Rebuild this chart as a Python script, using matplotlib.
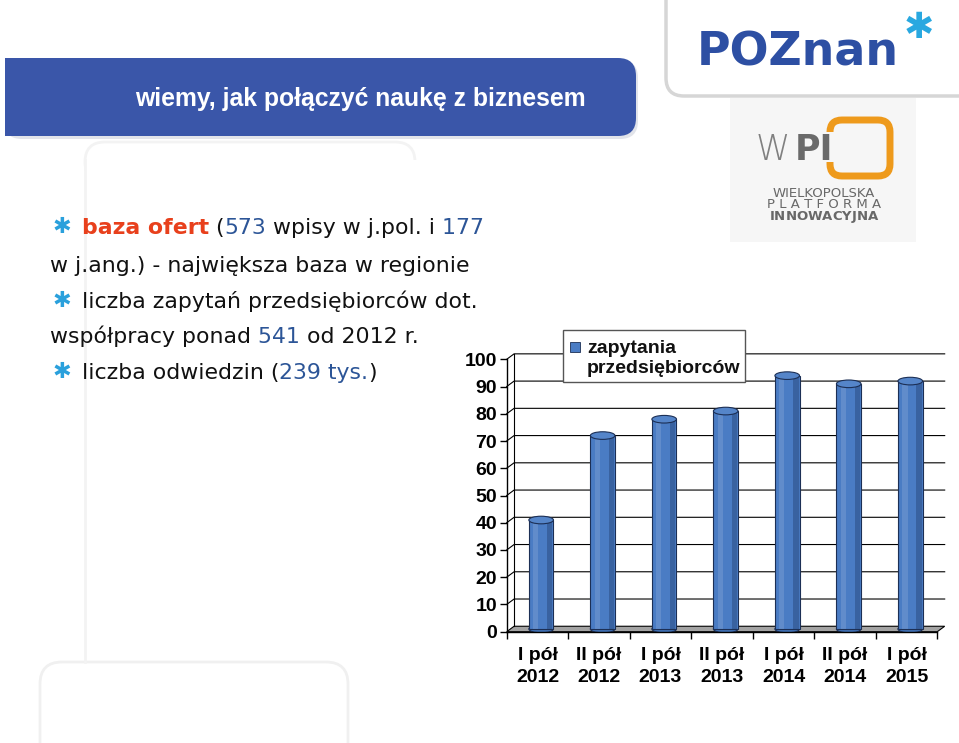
import numpy as np
import matplotlib
matplotlib.use("Agg")
import matplotlib.pyplot as plt
import matplotlib.patches as mpatches

# data
categories = ["I pół\n2012", "II pół\n2012", "I pół\n2013", "II pół\n2013",
              "I pół\n2014", "II pół\n2014", "I pół\n2015"]
inquiries = [40, 71, 77, 80, 93, 90, 91]
y_ticks = [0, 10, 20, 30, 40, 50, 60, 70, 80, 90, 100]
legend_lines = ["zapytania", "przedsiębiorców"]
title = "wiemy, jak połączyć naukę z biznesem"

BLACK, BLUE, RED = "#111111", "#2c5597", "#e8401c"
bullet_lines = [
    (True,  [("baza ofert", RED, "bold"), (" (", BLACK, "normal"), ("573", BLUE, "normal"),
             (" wpisy w j.pol. i", BLACK, "normal"), (" 177", BLUE, "normal")]),
    (False, [("w j.ang.) - największa baza w regionie", BLACK, "normal")]),
    (True,  [("liczba zapytań przedsiębiorców dot.", BLACK, "normal")]),
    (False, [("współpracy ponad", BLACK, "normal"), (" 541", BLUE, "normal"),
             (" od 2012 r.", BLACK, "normal")]),
    (True,  [("liczba odwiedzin (", BLACK, "normal"), ("239 tys.", BLUE, "normal"),
             (")", BLACK, "normal")]),
]
line_baselines = [234, 272, 308, 343, 379]

W, H = 959, 743
fig = plt.figure(figsize=(W / 100, H / 100), dpi=100)
fig.patch.set_facecolor("white")

# background layer in pixel coordinates
bg = fig.add_axes([0, 0, 1, 1])
bg.set_xlim(0, W)
bg.set_ylim(H, 0)
bg.axis("off")

# faint slide decorations
faint = "#f3f3f3"
bg.plot([85, 85], [160, 662], color=faint, lw=2)
bg.add_patch(mpatches.FancyBboxPatch((85, 142), 330, 40, boxstyle="round,pad=0,rounding_size=20",
                                     fc="none", ec=faint, lw=2))
bg.add_patch(mpatches.Rectangle((86, 160), 420, 30, fc="white", ec="none"))
bg.add_patch(mpatches.FancyBboxPatch((40, 662), 308, 120, boxstyle="round,pad=0,rounding_size=22",
                                     fc="white", ec="#f0f0f0", lw=2))

# title banner
bg.add_patch(mpatches.FancyBboxPatch((4, 60), 634, 79, boxstyle="round,pad=0,rounding_size=18",
                                     fc="#e2e4ea", ec="none"))
bg.add_patch(mpatches.FancyBboxPatch((-20, 58), 656, 78, boxstyle="round,pad=0,rounding_size=18",
                                     fc="#3a56a9", ec="none"))
bg.add_patch(mpatches.Rectangle((-5, 58), 10, 80, fc="white", ec="none"))
bg.text(360, 99, title, color="white", fontsize=17.8, fontweight="bold",
        family="Liberation Sans", ha="center", va="center")

# POZnan logo
bg.add_patch(mpatches.FancyBboxPatch((666, -40), 310, 136, boxstyle="round,pad=0,rounding_size=18",
                                     fc="white", ec="#d6d6d6", lw=2.5))
bg.text(697, 66, "POZnan", color="#2d4fa3", fontsize=33, fontweight="bold",
        family="DejaVu Sans", ha="left", va="baseline")
bg.text(919, 28, "✱", color="#29a8e0", fontsize=26, family="DejaVu Sans",
        ha="center", va="center")

# WPI logo
bg.add_patch(mpatches.Rectangle((730, 98), 186, 144, fc="#f6f6f6", ec="none"))
bg.add_patch(mpatches.FancyBboxPatch((830, 120), 60, 56, boxstyle="round,pad=0,rounding_size=12",
                                     fc="none", ec="#ee9a1c", lw=5))
bg.add_patch(mpatches.Rectangle((824, 132), 12, 30, fc="#f6f6f6", ec="none"))
bg.text(756, 160, "W", color="#808080", fontsize=25, fontweight="light",
        family="DejaVu Sans", ha="left", va="baseline")
bg.text(795, 160, "PI", color="#6a6a6a", fontsize=25, fontweight="bold",
        family="DejaVu Sans", ha="left", va="baseline")
bg.text(824, 220, "WIELKOPOLSKA\nP L A T F O R M A\n$\\mathbf{INNOWACYJNA}$",
        color="#686868", fontsize=9.5, family="DejaVu Sans", ha="center", va="baseline",
        multialignment="center", linespacing=0.8)

# bullet text
for (star, pieces), yb in zip(bullet_lines, line_baselines):
    if star:
        bg.text(62, yb - 7, "✱", color="#2aa0dc", fontsize=16, family="DejaVu Sans",
                ha="center", va="center")
        x0 = 82
    else:
        x0 = 50
    prev = None
    for s, c, w in pieces:
        if prev is None:
            prev = bg.text(x0, yb, s, color=c, fontweight=w, fontsize=15.8,
                           family="DejaVu Sans", ha="left", va="baseline")
        else:
            prev = bg.annotate(s, xy=(1, 0), xycoords=prev, color=c, fontweight=w,
                               fontsize=15.8, family="DejaVu Sans", ha="left", va="bottom")

# chart
ax = fig.add_axes([506.7 / W, (H - 631.7) / H, (937.3 - 506.7) / W, (631.7 - 359.3) / H])
ax.set_xlim(-0.5, 6.5)
ax.set_ylim(0, 100)
ax.patch.set_visible(False)
for s in ["top", "right"]:
    ax.spines[s].set_visible(False)
for s in ["left", "bottom"]:
    ax.spines[s].set_linewidth(1)

dx, dy = 0.12, 2.0
ax.add_patch(mpatches.Polygon([(-0.5, 0), (6.5, 0), (6.5 + dx, dy), (-0.5 + dx, dy)],
                              closed=True, fc="#a3a3a3", ec="black", lw=0.8, clip_on=False, zorder=1))
for v in y_ticks[1:]:
    ax.plot([-0.5, -0.5 + dx, 6.5 + dx], [v, v + dy, v + dy], color="black", lw=0.8,
            clip_on=False, zorder=1)
ax.plot([-0.5 + dx, -0.5 + dx], [dy, 100 + dy], color="black", lw=0.8, clip_on=False, zorder=1)

x = np.arange(len(categories))
bw = 0.4
xc = x + dx / 2
base = dy / 2
tops = np.array(inquiries) + dy / 2
edge = "#1c2f55"
for xi in xc:
    ax.add_patch(mpatches.Ellipse((xi, base), bw, 2.8, fc="#3f6fb3", ec=edge, lw=0.8, zorder=2))
ax.bar(xc, tops - base, bottom=base, width=bw, color="#4a7cc4", edgecolor=edge, lw=0.8, zorder=3)
ax.bar(xc - bw * 0.22, tops - base, bottom=base, width=bw * 0.22, color="white", alpha=0.13,
       lw=0, zorder=4)
ax.bar(xc + bw * 0.35, tops - base, bottom=base, width=bw * 0.22, color="#13284d", alpha=0.3,
       lw=0, zorder=4)
for xi, t in zip(xc, tops):
    ax.add_patch(mpatches.Ellipse((xi, t), bw, 2.8, fc="#5585c9", ec=edge, lw=0.8, zorder=5))

ax.set_yticks(y_ticks)
ax.set_yticklabels([str(v) for v in y_ticks], fontsize=14, fontweight="bold",
                   family="Liberation Sans")
ax.tick_params(axis="y", length=5, width=1, pad=2)
ax.set_xticks(x)
ax.set_xticklabels(categories, fontsize=14, fontweight="bold", family="Liberation Sans",
                   linespacing=1.35)
ax.tick_params(axis="x", which="major", length=0, pad=11)
ax.set_xticks(np.arange(-0.5, len(categories), 1), minor=True)
ax.tick_params(axis="x", which="minor", length=5, width=1)

# legend box on top
fg = fig.add_axes([0, 0, 1, 1])
fg.set_xlim(0, W)
fg.set_ylim(H, 0)
fg.axis("off")
fg.add_patch(mpatches.Rectangle((563, 330), 182, 52, fc="white", ec="#555555", lw=1))
fg.add_patch(mpatches.Rectangle((570, 342), 10, 10, fc="#4a7cc4", ec=edge, lw=0.6))
fg.text(587, 353, legend_lines[0], fontsize=14, fontweight="bold", family="Liberation Sans",
        ha="left", va="baseline", color=BLACK)
fg.text(587, 373, legend_lines[1], fontsize=14, fontweight="bold", family="Liberation Sans",
        ha="left", va="baseline", color=BLACK)

fig.savefig("out.png", dpi=100)
